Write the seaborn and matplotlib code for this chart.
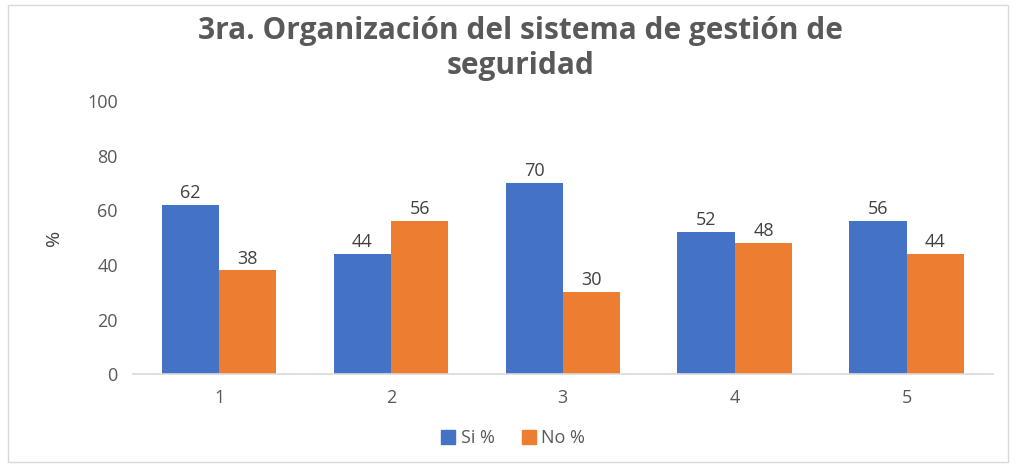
import matplotlib
matplotlib.use("Agg")
import matplotlib.pyplot as plt
import seaborn as sns
import pandas as pd
from matplotlib.patches import Rectangle

categories = ["1", "2", "3", "4", "5"]
si_values = [62, 44, 70, 52, 56]
no_values = [38, 56, 30, 48, 44]
series_names = ["Si %", "No %"]
title = "3ra. Organización del sistema de gestión de\nseguridad"
y_ticks = [0, 20, 40, 60, 80, 100]

df = pd.DataFrame({
    "cat": categories * 2,
    "val": si_values + no_values,
    "serie": [series_names[0]] * 5 + [series_names[1]] * 5,
})

sns.set_theme(style="white")
plt.rcParams["font.family"] = ["Open Sans", "DejaVu Sans"]

fig = plt.figure(figsize=(10.16, 4.66), dpi=100)
ax = fig.add_axes([0.131, 0.197, 0.846, 0.586])
palette = {"Si %": "#4472C4", "No %": "#ED7D31"}
sns.barplot(data=df, x="cat", y="val", hue="serie", palette=palette, width=0.667,
            ax=ax, saturation=1, legend=False, edgecolor="none")

for cont in ax.containers:
    ax.bar_label(cont, fmt="%g", padding=2, fontsize=13, color="#404040")

ax.set_ylim(0, 100)
ax.set_xlim(-0.5, 4.5)
ax.set_yticks(y_ticks)
ax.set_yticklabels([str(t) for t in y_ticks])
ax.tick_params(axis="both", labelsize=13, colors="#595959", length=0)
ax.tick_params(axis="y", pad=11)
ax.tick_params(axis="x", pad=11)
ax.set_xlabel("")
ax.set_ylabel("%", fontsize=14, color="#404040")
ax.yaxis.set_label_coords(-0.082, 0.5)
for s in ["top", "right", "left"]:
    ax.spines[s].set_visible(False)
ax.spines["bottom"].set_color("#D9D9D9")
ax.spines["bottom"].set_linewidth(1.2)

fig.text(0.512, 0.965, title, ha="center", va="top", fontsize=21.5, fontweight="bold",
         color="#595959", linespacing=1.22)

handles = [Rectangle((0, 0), 1, 1, color=palette[n]) for n in series_names]
fig.legend(handles, series_names, loc="center", bbox_to_anchor=(0.505, 0.06), ncol=2,
           frameon=False, fontsize=13, labelcolor="#595959", handlelength=0.8,
           handleheight=0.8, handletextpad=0.3, columnspacing=1.5)

fig.patches.append(Rectangle((0.008, 0.008), 0.984, 0.982, transform=fig.transFigure,
                             fill=False, edgecolor="#D9D9D9", linewidth=1))

fig.savefig("out.png", dpi=100)
